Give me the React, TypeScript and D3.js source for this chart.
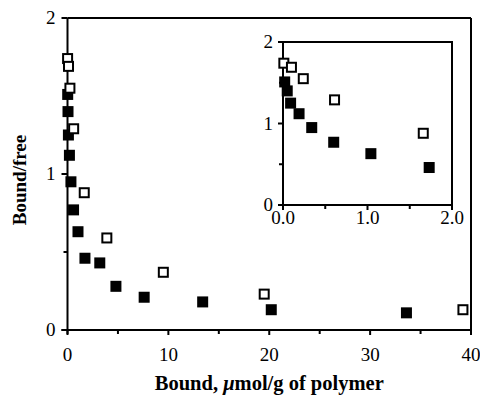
import * as d3 from "d3";

// filled squares
const filledX = [0.02, 0.05, 0.09, 0.19, 0.34, 0.6, 1.04, 1.73, 3.2, 4.8, 7.6, 13.4, 20.2, 33.6];
const filledY = [1.51, 1.4, 1.25, 1.12, 0.95, 0.77, 0.63, 0.46, 0.43, 0.28, 0.21, 0.18, 0.13, 0.11];
// open squares
const openX = [0.01, 0.1, 0.24, 0.61, 1.66, 3.9, 9.5, 19.5, 39.2];
const openY = [1.74, 1.69, 1.55, 1.29, 0.88, 0.59, 0.37, 0.23, 0.13];

const mainXTicks = [0, 10, 20, 30, 40];
const mainXMinor = [5, 15, 25, 35];
const mainYTicks = [0, 1, 2];
const mainYMinor = [0.5, 1.5];
const insetXTicks = [0, 1, 2];
const insetXMinor = [0.5, 1.5];
const insetYTicks = [0, 1, 2];
const insetYMinor = [0.5, 1.5];

const xTitleA = "Bound, ";
const xTitleMu = "\u03bc";
const xTitleB = "mol/g of polymer";
const yTitle = "Bound/free";

const W = 480;
const H = 398;
const font = "'Liberation Serif', 'Times New Roman', serif";

const filled = filledX.map((x, i) => ({ x, y: filledY[i] }));
const open = openX.map((x, i) => ({ x, y: openY[i] }));

function Markers({ x, y, maxX }) {
  const s = 11;
  return (
    <g>
      {filled
        .filter((d) => d.x <= maxX)
        .map((d, i) => (
          <rect key={"f" + i} x={x(d.x) - s / 2} y={y(d.y) - s / 2} width={s} height={s} fill="#000" />
        ))}
      {open
        .filter((d) => d.x <= maxX)
        .map((d, i) => (
          <rect
            key={"o" + i}
            x={x(d.x) - (s - 2) / 2}
            y={y(d.y) - (s - 2) / 2}
            width={s - 2}
            height={s - 2}
            fill="#fff"
            stroke="#000"
            strokeWidth={2}
          />
        ))}
    </g>
  );
}

export default function App() {
  // main plot
  const x = d3.scaleLinear().domain([0, 40]).range([67.5, 471]);
  const y = d3.scaleLinear().domain([0, 2]).range([330, 18]);
  // inset
  const ix = d3.scaleLinear().domain([0, 2]).range([283, 452]);
  const iy = d3.scaleLinear().domain([0, 2]).range([205, 42]);

  const fmt1 = d3.format(".1f");

  return (
    <svg
      width={W}
      height={H}
      style={{ position: "absolute", left: 0, top: 0, background: "#fff" }}
      fontFamily={font}
    >
      <rect width={W} height={H} fill="#fff" />

      {/* main frame */}
      <g stroke="#000" strokeWidth={2} fill="none">
        <line x1={x(0)} x2={x(40)} y1={y(2)} y2={y(2)} />
        <line x1={x(40)} x2={x(40)} y1={y(2)} y2={y(0) + 4} />
        <line x1={x(0)} x2={x(0)} y1={y(2)} y2={y(0) + 4} />
        <line x1={x(0) - 6} x2={x(40)} y1={y(0)} y2={y(0)} />
        {mainYTicks.map((t) => (
          <line key={"my" + t} x1={x(0) - 6} x2={x(0)} y1={y(t)} y2={y(t)} />
        ))}
        {mainYMinor.map((t) => (
          <line key={"mym" + t} x1={x(0) - 4} x2={x(0)} y1={y(t)} y2={y(t)} />
        ))}
        {mainXTicks.map((t) => (
          <line key={"mx" + t} x1={x(t)} x2={x(t)} y1={y(0)} y2={y(0) + 5} />
        ))}
        {mainXMinor.map((t) => (
          <line key={"mxm" + t} x1={x(t)} x2={x(t)} y1={y(0)} y2={y(0) + 4} />
        ))}
      </g>

      <g fontSize={19} fill="#000">
        {mainYTicks.map((t) => (
          <text key={"myl" + t} x={x(0) - 12} y={y(t) + 6} textAnchor="end">
            {t}
          </text>
        ))}
        {mainXTicks.map((t) => (
          <text key={"mxl" + t} x={x(t)} y={361} textAnchor="middle">
            {t}
          </text>
        ))}
      </g>

      <text x={(x(0) + x(40)) / 2} y={390} textAnchor="middle" fontSize={20.5} fontWeight="bold">
        {xTitleA}
        <tspan fontStyle="italic">{xTitleMu}</tspan>
        {xTitleB}
      </text>
      <text
        transform={`translate(26, ${(y(0) + y(2)) / 2 + 6}) rotate(-90)`}
        textAnchor="middle"
        fontSize={19}
        fontWeight="bold"
      >
        {yTitle}
      </text>

      <Markers x={x} y={y} maxX={40} />

      {/* inset */}
      <g stroke="#000" strokeWidth={2} fill="none">
        <rect x={ix(0)} y={iy(2)} width={ix(2) - ix(0)} height={iy(0) - iy(2)} />
        {insetYTicks.map((t) => (
          <line key={"iy" + t} x1={ix(0) - 5} x2={ix(0)} y1={iy(t)} y2={iy(t)} />
        ))}
        {insetYMinor.map((t) => (
          <line key={"iym" + t} x1={ix(0) - 4} x2={ix(0)} y1={iy(t)} y2={iy(t)} />
        ))}
        {insetXTicks.map((t) => (
          <line key={"ix" + t} x1={ix(t)} x2={ix(t)} y1={iy(0)} y2={iy(0) + 5} />
        ))}
        {insetXMinor.map((t) => (
          <line key={"ixm" + t} x1={ix(t)} x2={ix(t)} y1={iy(0)} y2={iy(0) + 4} />
        ))}
      </g>
      <g fontSize={19} fill="#000">
        {insetYTicks.map((t) => (
          <text key={"iyl" + t} x={ix(0) - 10} y={iy(t) + 6} textAnchor="end">
            {t}
          </text>
        ))}
        {insetXTicks.map((t) => (
          <text key={"ixl" + t} x={ix(t)} y={224} textAnchor="middle">
            {fmt1(t)}
          </text>
        ))}
      </g>
      <Markers x={ix} y={iy} maxX={2} />
    </svg>
  );
}
